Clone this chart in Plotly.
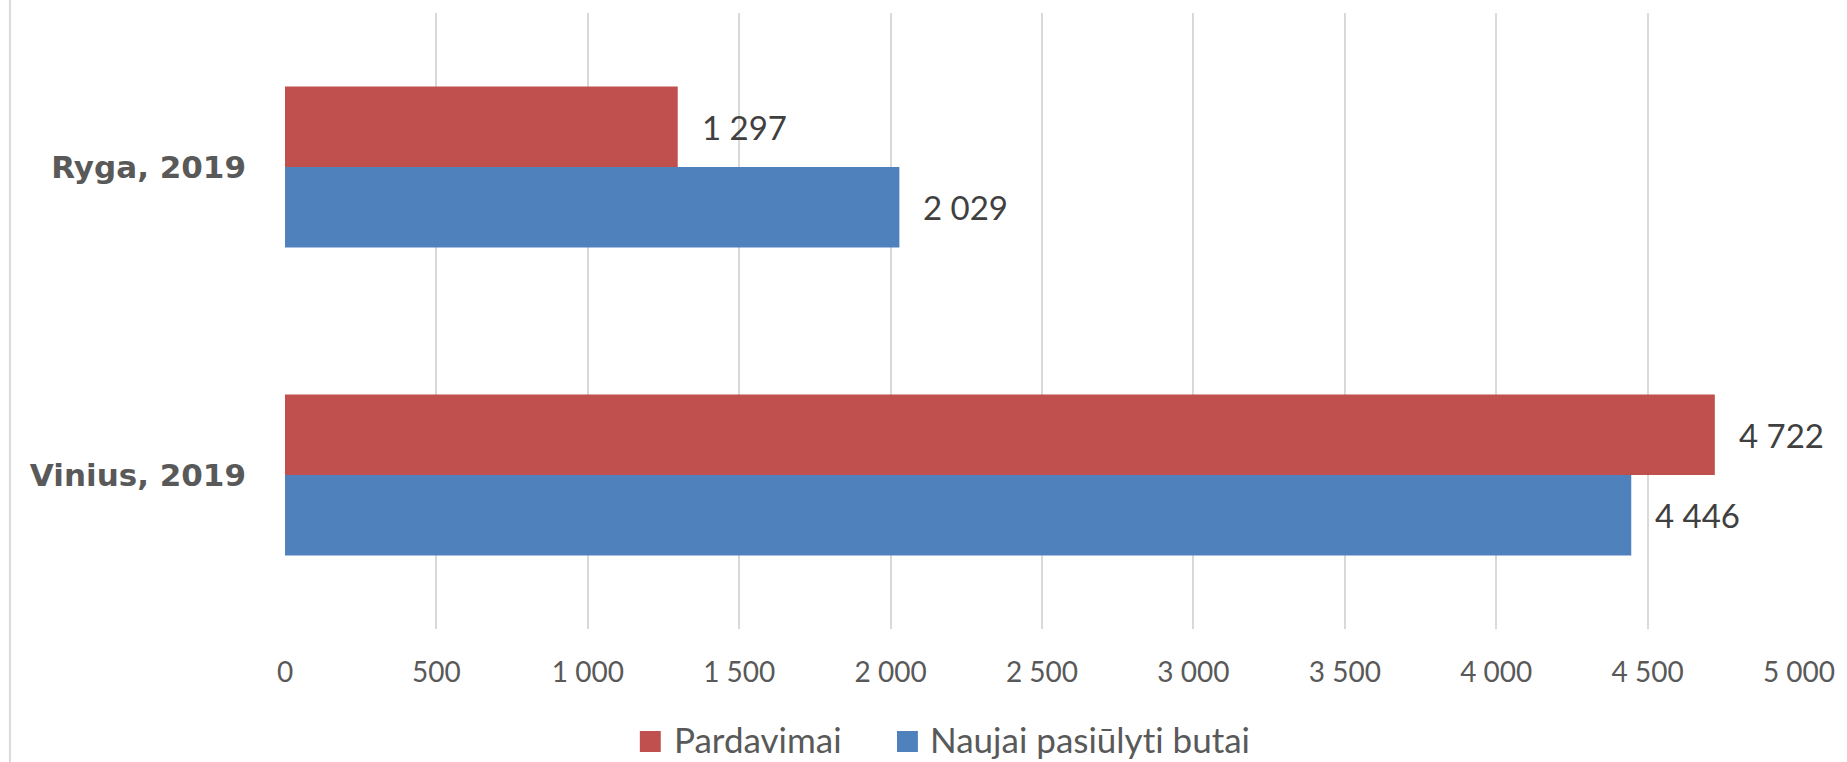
import plotly.graph_objects as go

# Categories and series values
cities = ["Ryga, 2019", "Vinius, 2019"]
pardavimai = [1297, 4722]
naujai_pasiulyti = [2029, 4446]
series_names = ["Pardavimai", "Naujai pasiūlyti butai"]
series_colors = ["#C0504D", "#4F81BD"]
x_ticks = list(range(0, 5001, 500))

W, H = 1847, 762
ML, MR, MT, MB = 285, 43, 13, 133
PW, PH = W - ML - MR, H - MT - MB


def px_x(px):
    return (px - ML) / PW


def px_y(py):
    return (H - MB - py) / PH


def no_ligatures(s):
    # keep "ti" / "fi" etc. as separate glyphs
    return s.replace("ti", "t\u200ci").replace("fi", "f\u200ci")


fig = go.Figure()
for name, vals, col in zip(series_names, [pardavimai, naujai_pasiulyti], series_colors):
    fig.add_trace(go.Bar(
        y=cities, x=vals, name=name, orientation="h",
        marker=dict(color=col, line=dict(width=0)),
        showlegend=False,
    ))

fig.update_layout(
    width=W, height=H,
    margin=dict(l=ML, r=MR, t=MT, b=MB, pad=0),
    paper_bgcolor="white", plot_bgcolor="white",
    barmode="group", bargap=0.477, bargroupgap=0,
    separators=". ",
    font=dict(family="Lato, sans-serif", color="#595959"),
    xaxis=dict(
        range=[0, 5000], tickvals=x_ticks, tickformat=",d",
        showgrid=True, gridcolor="#d9d9d9", gridwidth=1.5,
        zeroline=False, showline=False, ticks="",
        ticklabelstandoff=24,
        tickfont=dict(family="Lato, sans-serif", size=28, color="#595959"),
    ),
    yaxis=dict(
        autorange="reversed", showgrid=False, zeroline=False, showline=False,
        ticks="", ticklabelstandoff=38,
        tickfont=dict(family="DejaVu Sans, sans-serif", size=31, color="#595959",
                      weight="bold"),
    ),
)

# Value labels to the right of each bar, offset to each bar's half of the group
for i, (name, vals) in enumerate(zip(series_names, [pardavimai, naujai_pasiulyti])):
    for cat, v in zip(cities, vals):
        fig.add_annotation(
            x=v, y=cat, xref="x", yref="y",
            text=f"{v:,d}".replace(",", " "),
            showarrow=False, xanchor="left", yanchor="middle",
            xshift=22, yshift=(40 if i == 0 else -40),
            font=dict(family="Lato, sans-serif", size=33, color="#404040"),
        )

# Legend: colored squares with series names underneath the axis
legend_items = [(641, 673), (899, 930)]
for (sq_x, txt_x), name, col in zip(legend_items, series_names, series_colors):
    fig.add_shape(
        type="rect", xref="paper", yref="paper",
        x0=px_x(sq_x), x1=px_x(sq_x + 21), y0=px_y(752), y1=px_y(731),
        fillcolor=col, line=dict(width=0),
    )
    fig.add_annotation(
        x=px_x(txt_x), y=px_y(739), xref="paper", yref="paper",
        text=no_ligatures(name), showarrow=False, xanchor="left", yanchor="middle",
        font=dict(family="Lato, sans-serif", size=35, color="#595959"),
    )

# Thin chart-area border on the left edge
fig.add_shape(
    type="line", xref="paper", yref="paper",
    x0=px_x(9), x1=px_x(9), y0=px_y(H + 5), y1=px_y(-5),
    line=dict(color="#d9d9d9", width=2),
)

fig.write_html("out.html")
